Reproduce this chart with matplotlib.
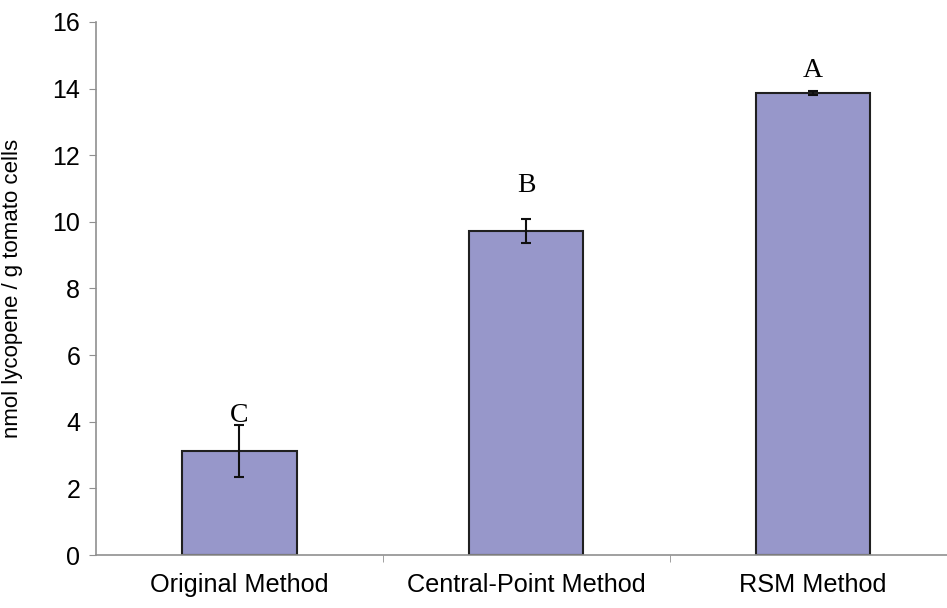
import matplotlib.pyplot as plt
import numpy as np

# values
methods = ['Original Method', 'Central-Point Method', 'RSM Method']
lycopene = [3.12, 9.73, 13.87]
errors = [0.78, 0.36, 0.05]
letters = ['C', 'B', 'A']
letter_y = [4.2, 11.1, 14.55]

plt.rcParams['font.family'] = ['Liberation Sans', 'DejaVu Sans']

fig = plt.figure(figsize=(9.47, 6.08), dpi=100)
ax = fig.add_axes([0.101, 0.087, 0.909, 0.877])

x = np.arange(len(methods))
ax.bar(x, lycopene, width=0.40, color='#9797CA', edgecolor='#202020', linewidth=1.5, zorder=2)
ax.errorbar(x, lycopene, yerr=errors, fmt='none', ecolor='#101010', elinewidth=1.5,
            capsize=3.5, capthick=1.5, zorder=3)

for xi, lab, ly in zip(x, letters, letter_y):
    ax.text(xi, ly, lab, ha='center', va='center', fontsize=20,
            family=['Liberation Serif', 'DejaVu Serif'], zorder=4)

ax.set_xlim(-0.5, 2.5)
ax.set_ylim(0, 16)
ax.set_yticks(np.arange(0, 17, 2))
ax.set_xticks(x)
ax.set_xticklabels(methods, fontsize=18.2)
ax.set_xticks([0.5, 1.5], minor=True)
ax.tick_params(axis='x', which='major', length=0, pad=13)
ax.tick_params(axis='x', which='minor', length=5, color='#909090', direction='out')
ax.tick_params(axis='y', labelsize=18, length=5, color='#909090', direction='out', pad=6)
ax.set_ylabel('nmol lycopene / g tomato cells', fontsize=16, va='center')
ax.yaxis.set_label_coords(-0.097, 0.5)

for side in ['top', 'right']:
    ax.spines[side].set_visible(False)
for side in ['left', 'bottom']:
    ax.spines[side].set_color('#909090')
    ax.spines[side].set_linewidth(1.2)

fig.savefig('out.png', dpi=100)
